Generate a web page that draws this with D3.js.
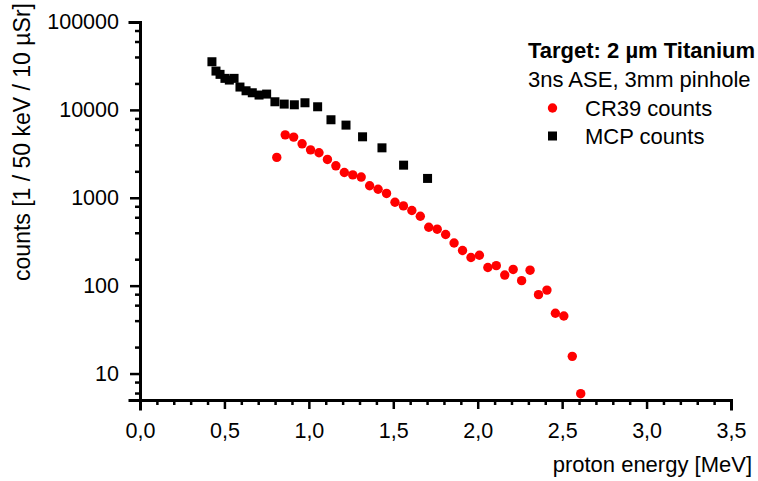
<!DOCTYPE html>
<html>
<head>
<meta charset="utf-8">
<script src="https://cdn.jsdelivr.net/npm/d3@7"></script>
<style>
  html, body { margin: 0; padding: 0; background: #fff; }
  svg { display: block; font-family: "Liberation Sans", Arial, sans-serif; }
</style>
</head>
<body>
<svg id="chart" width="758" height="481"></svg>
<script>
// CR39 track counts (proton energy in MeV, counts per 50 keV per 10 µSr)
const cr39Energy = [0.81, 0.86, 0.91, 0.96, 1.01, 1.06, 1.11, 1.16, 1.21, 1.26,
  1.31, 1.36, 1.41, 1.46, 1.51, 1.56, 1.61, 1.66, 1.71, 1.76,
  1.81, 1.86, 1.91, 1.96, 2.01, 2.06, 2.11, 2.16, 2.21, 2.26,
  2.31, 2.36, 2.41, 2.46, 2.51, 2.56, 2.61];
const cr39Counts = [2880, 5200, 4900, 4110, 3510, 3250, 2730, 2310, 1940, 1820,
  1720, 1370, 1250, 1120, 890, 808, 716, 617, 462, 439,
  382, 306, 251, 209, 222, 161, 169, 132, 153, 114,
  150, 79, 89, 48.5, 45.2, 15.7, 5.9];

// MCP counts
const mcpEnergy = [0.426, 0.45, 0.474, 0.503, 0.529, 0.557, 0.592, 0.628, 0.665, 0.705,
  0.75, 0.799, 0.854, 0.914, 0.977, 1.052, 1.131, 1.22, 1.318, 1.433,
  1.561, 1.703];
const mcpCounts = [35300, 27650, 25360, 22840, 21850, 22840, 18190, 16500, 15660, 14750,
  15130, 12370, 11640, 11430, 12050, 10850, 7720, 6710, 4940, 3700,
  2350, 1660];

const xMajorTicks = [0, 0.5, 1.0, 1.5, 2.0, 2.5, 3.0, 3.5];
const yMajorTicks = [10, 100, 1000, 10000, 100000];

const legendTitle = "Target: 2 \u00b5m Titanium";
const legendSubtitle = "3ns ASE, 3mm pinhole";
const seriesNames = ["CR39 counts", "MCP counts"];
const xTitle = "proton energy [MeV]";
const yTitle = "counts [1 / 50 keV / 10 \u00b5Sr]";

const svg = d3.select("#chart");
const x = d3.scaleLinear().domain([0, 3.5]).range([140, 731]);
const y = d3.scaleLog().domain([5, 100000]).range([400, 22]);

const fmtX = d => d3.format(".1f")(d).replace(".", ",");

// minor tick positions
const xMinor = d3.range(0, 35).map(i => i / 10).filter(v => Math.round(v * 10) % 5 !== 0);
const yMinor = [];
[1, 10, 100, 1000, 10000].forEach(dec => [2, 4, 6, 8].forEach(m => {
  const v = dec * m;
  if (v >= 5 && v <= 100000) yMinor.push(v);
}));

const axisColor = "#000";

// X axis
const gx = svg.append("g").attr("transform", `translate(0,${y.range()[0]})`);
gx.call(d3.axisBottom(x).tickValues(xMajorTicks).tickFormat(fmtX).tickSizeOuter(0).tickSize(9).tickPadding(14));
gx.append("g").call(d3.axisBottom(x).tickValues(xMinor).tickFormat("").tickSizeOuter(0).tickSize(5))
  .select(".domain").remove();

// Y axis
const gy = svg.append("g").attr("transform", `translate(${x.range()[0]},0)`);
gy.call(d3.axisLeft(y).tickValues(yMajorTicks).tickFormat(d3.format("d")).tickSizeOuter(0).tickSize(10).tickPadding(11));
gy.append("g").call(d3.axisLeft(y).tickValues(yMinor).tickFormat("").tickSizeOuter(0).tickSize(5))
  .select(".domain").remove();

svg.selectAll(".domain").attr("stroke", axisColor).attr("stroke-width", 3).attr("stroke-linecap", "square");
svg.selectAll(".tick line").attr("stroke", axisColor).attr("stroke-width", 2.5);
svg.selectAll(".tick text").attr("font-size", 21.5).attr("fill", "#000")
  .attr("font-family", "'Liberation Sans', Arial, sans-serif");
gx.selectAll(".tick text").attr("dy", "0.72em");

// axis titles
svg.append("text")
  .attr("x", 752).attr("y", 472)
  .attr("text-anchor", "end")
  .attr("font-size", 22)
  .text(xTitle);

svg.append("text")
  .attr("transform", "translate(30,142) rotate(-90)")
  .attr("text-anchor", "middle")
  .attr("font-size", 23)
  .text(yTitle);

// data marks
svg.append("g").selectAll("rect")
  .data(mcpEnergy.map((e, i) => [e, mcpCounts[i]]))
  .join("rect")
  .attr("x", d => x(d[0]) - 4.5)
  .attr("y", d => y(d[1]) - 4.5)
  .attr("width", 9).attr("height", 9)
  .attr("fill", "#000");

svg.append("g").selectAll("circle")
  .data(cr39Energy.map((e, i) => [e, cr39Counts[i]]))
  .join("circle")
  .attr("cx", d => x(d[0]))
  .attr("cy", d => y(d[1]))
  .attr("r", 4.7)
  .attr("fill", "#ff0000");

// legend
const lg = svg.append("g");
lg.append("text").attr("x", 528).attr("y", 58).attr("font-size", 22).attr("font-weight", "bold").text(legendTitle);
lg.append("text").attr("x", 528).attr("y", 87).attr("font-size", 22).text(legendSubtitle);
lg.append("circle").attr("cx", 552.5).attr("cy", 108).attr("r", 4.7).attr("fill", "#ff0000");
lg.append("text").attr("x", 585).attr("y", 116).attr("font-size", 22).text(seriesNames[0]);
lg.append("rect").attr("x", 548).attr("y", 131.5).attr("width", 9).attr("height", 9).attr("fill", "#000");
lg.append("text").attr("x", 585).attr("y", 144).attr("font-size", 22).text(seriesNames[1]);
</script>
</body>
</html>
